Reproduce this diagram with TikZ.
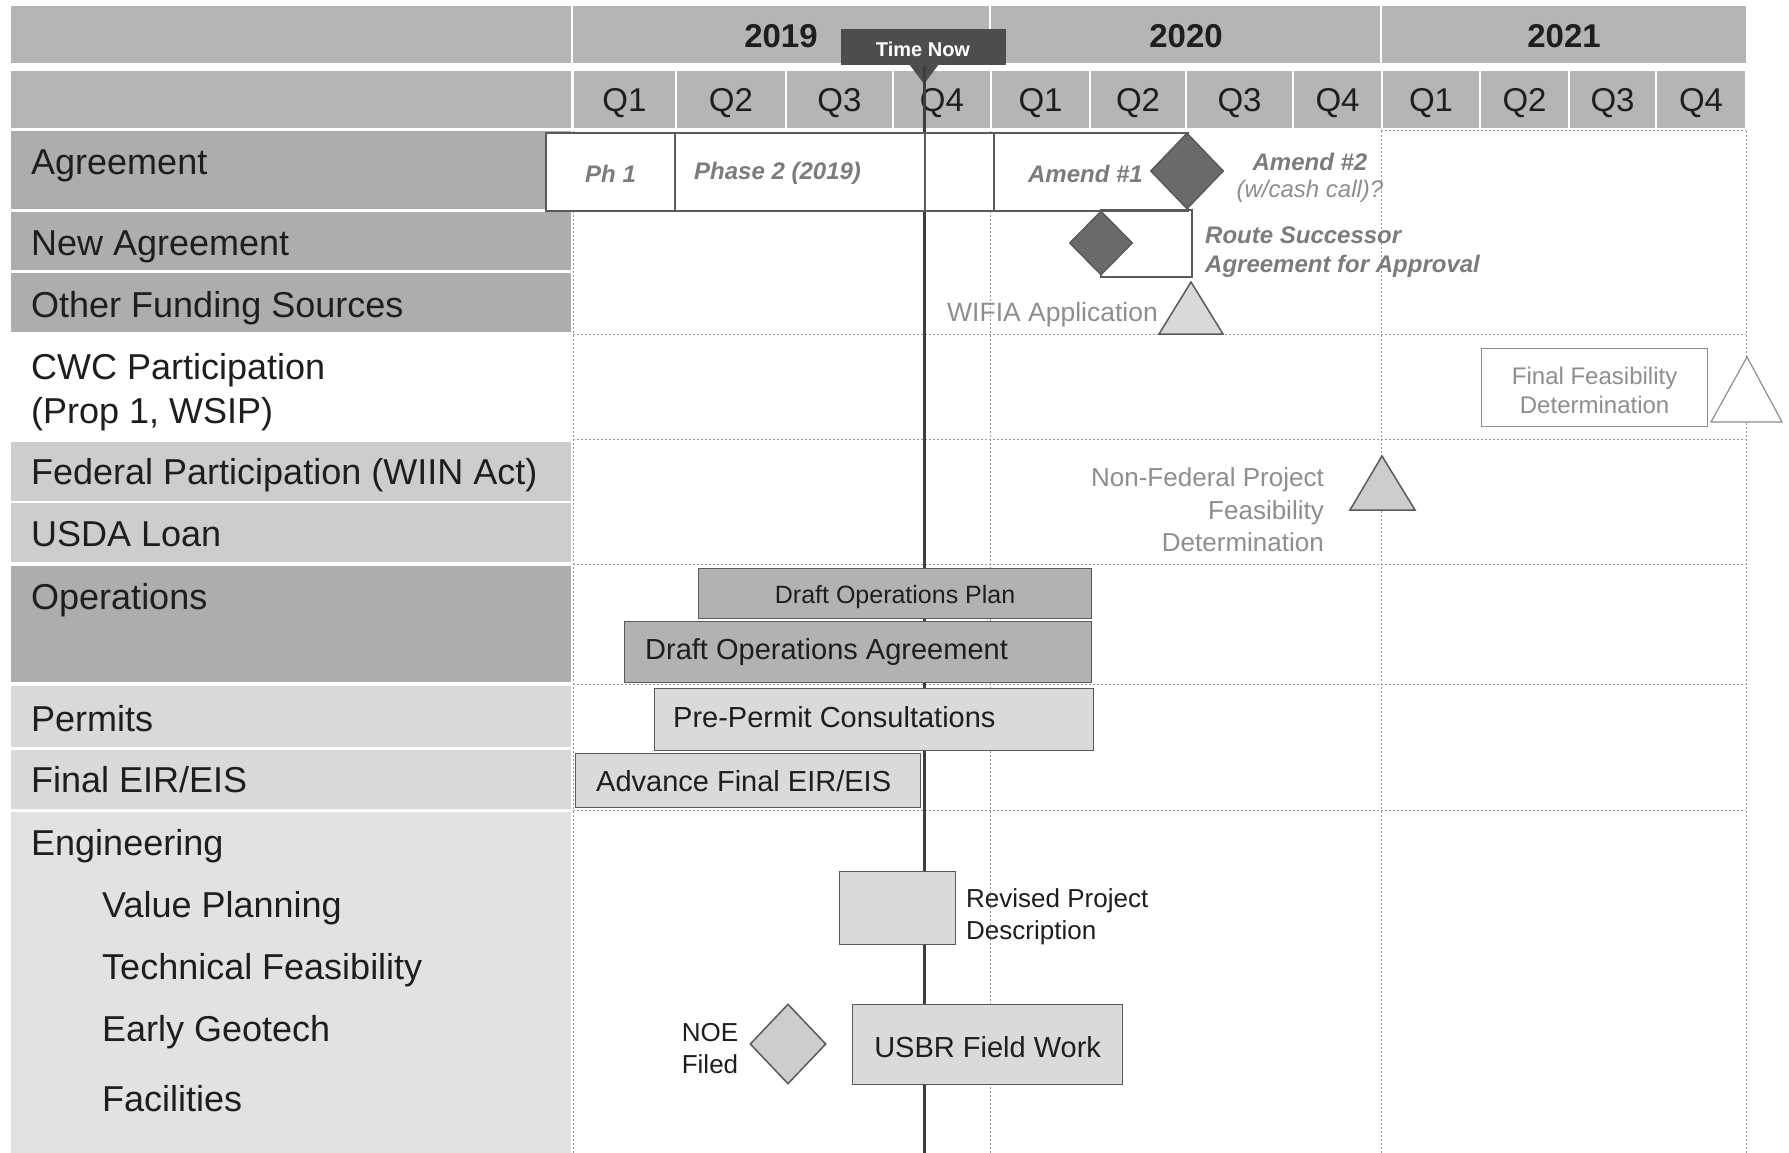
\documentclass[tikz,border=0pt]{standalone}
\usepackage{fontspec}
\setmainfont{Liberation Sans}
\usetikzlibrary{shapes.geometric}
\definecolor{hdr}{HTML}{B5B5B5}
\definecolor{cdark}{HTML}{ADADAD}
\definecolor{cmid}{HTML}{CDCDCD}
\definecolor{clight}{HTML}{D9D9D9}
\definecolor{clighter}{HTML}{E2E2E2}
\definecolor{gridc}{HTML}{9A9A9A}
\definecolor{tgray}{HTML}{7C7C7C}
\definecolor{tlgray}{HTML}{8E8E8E}
\definecolor{bordc}{HTML}{5A5A5A}
\definecolor{nowc}{HTML}{4D4D4D}
\definecolor{bardark}{HTML}{B2B2B2}
\definecolor{barlight}{HTML}{DADADA}
\definecolor{msdark}{HTML}{6A6A6A}
\definecolor{txt}{HTML}{1E1E1E}
\tikzset{
  lbl/.style={anchor=base west, inner sep=0pt, text=txt, font=\fontsize{36}{44}\selectfont},
  qlbl/.style={anchor=base, inner sep=0pt, text=txt, font=\fontsize{33}{38}\selectfont},
  ylbl/.style={inner sep=0pt, text=txt, font=\bfseries\fontsize{33}{38}\selectfont},
  gridline/.style={draw=gridc, line width=1pt, dash pattern=on 2pt off 2pt},
  agbox/.style={draw=bordc, line width=2pt, fill=white, anchor=north west, inner sep=0pt},
  itl/.style={inner sep=0pt, text=tgray, font=\bfseries\itshape\fontsize{24}{29}\selectfont},
  bartask/.style={draw=bordc, line width=1.2pt, anchor=north west, inner sep=0pt},
  btext/.style={inner sep=0pt, text=txt, font=\fontsize{29}{34}\selectfont},
  stext/.style={inner sep=0pt, text=txt, font=\fontsize{26}{32}\selectfont},
  gtext/.style={inner sep=0pt, text=tlgray, font=\fontsize{24}{29}\selectfont},
  msdia/.style={diamond, inner sep=0pt, draw=bordc, line width=1.5pt},
}
\begin{document}
\begin{tikzpicture}[x=1pt,y=-1pt]
\useasboundingbox (0,0) rectangle (1789,1153);
\fill[white] (0,0) rectangle (1789,1153);

% ---- header rows ----
\fill[hdr] (11,6) rectangle (571,63);
\fill[hdr] (573,6) rectangle (989,63);
\fill[hdr] (991,6) rectangle (1380,63);
\fill[hdr] (1382,6) rectangle (1746,63);
\node[ylbl] (y19) at (781,36) {2019};
\node[ylbl] (y20) at (1186,36) {2020};
\node[ylbl] (y21) at (1564,36) {2021};

\fill[hdr] (11,71) rectangle (571,128);
\foreach \a/\b/\q [count=\i] in {573/676/Q1,676/786/Q2,786/893/Q3,893/991/Q4,991/1090/Q1,1090/1186/Q2,1186/1293/Q3,1293/1382/Q4,1382/1480/Q1,1480/1569/Q2,1569/1656/Q3,1656/1746/Q4}{
  \fill[hdr] (\a+1,71) rectangle (\b-1,128);
  \node[qlbl] (q\i) at ({(\a+\b)/2},112) {\q};
}

% ---- left label cells ----
\fill[cdark] (11,131) rectangle (571,209);
\fill[cdark] (11,212) rectangle (571,270);
\fill[cdark] (11,273) rectangle (571,332);
\fill[cmid] (11,442) rectangle (571,501);
\fill[cmid] (11,503) rectangle (571,562);
\fill[cdark] (11,566) rectangle (571,682);
\fill[clight] (11,686) rectangle (571,747);
\fill[clight] (11,750) rectangle (571,809);
\fill[clighter] (11,812) rectangle (571,1153);

\node[lbl] (l1) at (31,175) {Agreement};
\node[lbl] (l2) at (31,255) {New Agreement};
\node[lbl] (l3) at (31,317) {Other Funding Sources};
\node[lbl, anchor=west, align=left] (l4) at (31,392) {CWC Participation\\(Prop 1, WSIP)};
\node[lbl] (l5) at (31,484) {Federal Participation (WIIN Act)};
\node[lbl] (l6) at (31,546) {USDA Loan};
\node[lbl] (l7) at (31,609) {Operations};
\node[lbl] (l8) at (31,731) {Permits};
\node[lbl] (l9) at (31,792) {Final EIR/EIS};
\node[lbl] (l10) at (31,855) {Engineering};
\node[lbl] (l11) at (102,917) {Value Planning};
\node[lbl] (l12) at (102,979) {Technical Feasibility};
\node[lbl] (l13) at (102,1041) {Early Geotech};
\node[lbl] (l14) at (102,1111) {Facilities};

% ---- grid ----
\draw[gridline] (1381,131) -- (1746,131);
\foreach \y in {334,439,564,684,810}{\draw[gridline] (573,\y) -- (1746,\y);}
\foreach \x in {573,990,1381,1746}{\draw[gridline] (\x,131) -- (\x,1153);}

% ---- time now ----
\node[fill=nowc, minimum width=165pt, minimum height=36pt, inner sep=0pt, anchor=north west] (now) at (841,29) {};
\node[anchor=base, inner sep=0pt, text=white, font=\bfseries\fontsize{20}{24}\selectfont] (tnow) at (923,57) {Time Now};
\fill[nowc] (909,64) -- (939,64) -- (924,84) -- cycle;
\coordinate (nowend) at (924,1153);
\draw[line width=3pt, draw=nowc!80!black] (924,65) -- (nowend);

% ---- agreement bar ----
\node[agbox, minimum width=129pt, minimum height=78pt] (ph1) at (545,132) {};
\node[agbox, minimum width=250pt, minimum height=78pt] (ph2) at (674,132) {};
\node[agbox, minimum width=69pt, minimum height=78pt] (ph3) at (924,132) {};
\node[agbox, minimum width=194pt, minimum height=78pt] (am1) at (993,132) {};
\draw[draw=bordc, line width=2pt] (1101,210) rectangle (1192,277);
\node[msdia, fill=msdark, minimum width=73pt, minimum height=76pt] (d1) at (1187,171) {};
\node[msdia, fill=msdark, minimum width=63pt, minimum height=64pt] (d2) at (1101,243) {};
\node[itl, anchor=west] (tph1) at (585,173.5) {Ph 1};
\node[itl, anchor=west] (tph2) at (694,173.5) {Phase 2 (2019)};
\node[itl, anchor=east] (tam1) at (1143,173.5) {Amend \#1};
\node[itl] (tam2) at (1310,162) {Amend \#2};
\node[inner sep=0pt, text=tlgray, font=\itshape\fontsize{24}{29}\selectfont] (tcash) at (1310,191.5) {(w/cash call)?};
\node[itl, anchor=north west, align=left, font=\bfseries\itshape\fontsize{24}{29}\selectfont] (troute) at (1205,227) {Route Successor\\Agreement for Approval};

% ---- funding ----
\node[inner sep=0pt, text=tlgray, font=\fontsize{26.5}{31}\selectfont, anchor=east] (twifia) at (1158,315) {WIFIA Application};
\draw[draw=bordc, fill=clight, line width=1.5pt] (1191,282) -- (1223,334) -- (1159,334) -- cycle;

\node[draw=tlgray, line width=1.2pt, fill=white, minimum width=226pt, minimum height=78pt, inner sep=0pt, anchor=north west] (ffd) at (1481,348) {};
\node[gtext, align=center] (tffd) at ([yshift=-2.5pt]ffd.center) {Final Feasibility\\Determination};
\draw[draw=tlgray, fill=white, line width=1.2pt] (1747,357) -- (1782,422) -- (1711,422) -- cycle;

\node[inner sep=0pt, text=tlgray, font=\fontsize{26}{32.5}\selectfont, align=right, anchor=east] (tnf) at (1324,510) {Non-Federal Project\\Feasibility\\Determination};
\draw[draw=bordc, fill=cmid, line width=1.5pt] (1382,456) -- (1415,510) -- (1350,510) -- cycle;

% ---- tasks ----
\node[bartask, fill=bardark, minimum width=393pt, minimum height=50pt] (dop) at (698,568) {};
\node[inner sep=0pt, text=txt, font=\fontsize{25}{30}\selectfont] (tdop) at ([yshift=-3.5pt]dop.center) {Draft Operations Plan};
\node[bartask, fill=bardark, minimum width=467pt, minimum height=61pt] (doa) at (624,621) {};
\node[btext, anchor=west] (tdoa) at ([xshift=21pt]doa.west) {Draft Operations Agreement};
\node[bartask, fill=barlight, minimum width=439pt, minimum height=62pt] (ppc) at (654,688) {};
\node[btext, anchor=west] (tppc) at ([xshift=19pt,yshift=2pt]ppc.west) {Pre-Permit Consultations};
\node[bartask, fill=barlight, minimum width=345pt, minimum height=54pt] (afe) at (575,753) {};
\node[btext, anchor=west] (tafe) at ([xshift=21pt,yshift=-1pt]afe.west) {Advance Final EIR/EIS};

\node[bartask, fill=barlight, minimum width=116pt, minimum height=73pt] (rpd) at (839,871) {};
\node[stext, anchor=west, align=left] (trpd) at (966,916.5) {Revised Project\\Description};
\node[stext, align=center] (tnoe) at (710,1048.5) {NOE\\Filed};
\node[msdia, fill=cmid, minimum width=76pt, minimum height=80pt] (d3) at (788,1044) {};
\node[bartask, fill=barlight, minimum width=270pt, minimum height=80pt] (usbr) at (852,1004) {};
\node[btext] (tusbr) at ([yshift=-2.5pt]usbr.center) {USBR Field Work};
\end{tikzpicture}
\end{document}
